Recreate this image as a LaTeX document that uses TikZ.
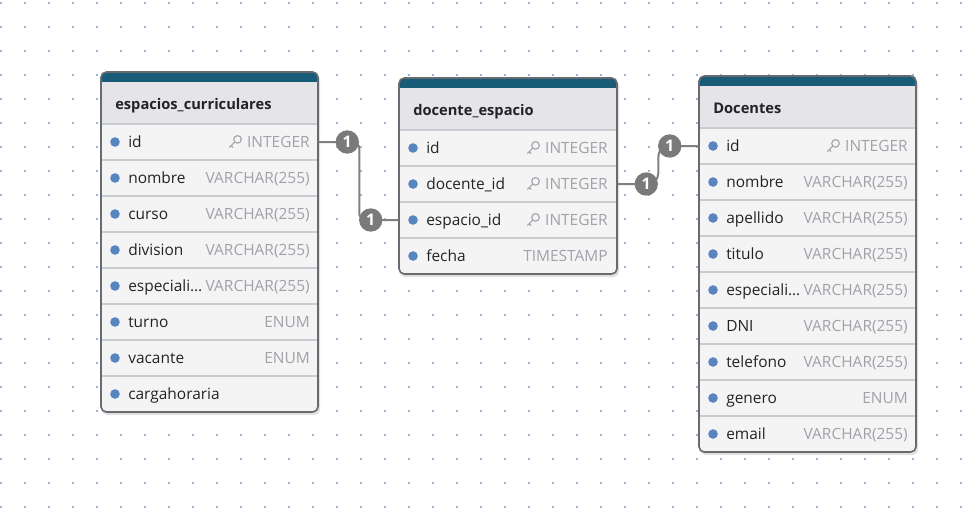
\documentclass[tikz,border=0pt]{standalone}
\usepackage{fontspec}
\setmainfont{Open Sans}
\usetikzlibrary{calc}

\definecolor{headteal}{RGB}{24,92,120}
\definecolor{headbg}{RGB}{229,229,232}
\definecolor{rowbg}{RGB}{244,244,245}
\definecolor{sepcol}{RGB}{202,204,210}
\definecolor{bordercol}{RGB}{105,105,112}
\definecolor{dotblue}{RGB}{86,133,192}
\definecolor{typegrey}{RGB}{160,162,170}
\definecolor{namecol}{RGB}{35,35,38}
\definecolor{linegrey}{RGB}{128,128,128}
\definecolor{badgegrey}{RGB}{122,122,122}
\definecolor{bgdot}{RGB}{150,185,215}

\begin{document}
\begin{tikzpicture}[x=0.75pt, y=-0.75pt,
    tableframe/.style={draw=bordercol, line width=1.2pt, rounded corners=4pt},
    sepline/.style={draw=sepcol, line width=1.1pt},
    rowcell/.style={inner sep=0pt, minimum height=27pt},
    fieldname/.style={anchor=west, inner sep=0pt, text height=10.2pt, text depth=2.6pt,
        text=namecol, font=\fontsize{11.6}{13}\selectfont},
    fieldtype/.style={anchor=east, inner sep=0pt, text height=10.2pt, text depth=2.6pt,
        text=typegrey, font=\fontsize{11.6}{13}\selectfont},
    fielddot/.style={circle, fill=dotblue, inner sep=0pt, minimum size=7.2pt},
    tabletitle/.style={anchor=west, inner sep=0pt, text height=10.2pt, text depth=2.6pt,
        text=namecol, font=\fontsize{11}{13}\selectfont\bfseries},
    relline/.style={draw=linegrey, line width=1.5pt, rounded corners=5pt},
    badge/.style={circle, fill=badgegrey, text=white, inner sep=0pt, minimum size=17.5pt,
        font=\fontsize{12}{13}\selectfont\bfseries},
    keyicon/.pic={
        \draw[typegrey, line width=0.8pt] (2.6,-2.6) circle (3.8)
        (-0.1,0.1) -- (-5.5,5.5) (-3.6,3.6) -- (-1.8,5.4);
    }
]

    %% Background
    \useasboundingbox (0,0) rectangle (962,522);
    \foreach \gx in {0,...,40}
        \foreach \gy in {0,...,21}
            \fill[bgdot] ({24*\gx},{2+24*\gy}) rectangle ++(2,2);

    % espacios_curriculares
    \fill[black!12, rounded corners=4pt] (102,74) rectangle (320,415);
    \begin{scope}
        \clip[rounded corners=4pt] (101,72) rectangle (318,412);
        \fill[rowbg] (101,72) rectangle (318,412);
        \fill[headteal] (101,72) rectangle (318,82);
        \fill[headbg] (101,82) rectangle (318,124);
    \end{scope}
    \node[tabletitle] (ec) at (115,104) {espacios\_curriculares};
    \foreach \fname/\ftype/\fkey [count=\i] in {id/INTEGER/1, nombre/VARCHAR(255)/0,
        curso/VARCHAR(255)/0, division/VARCHAR(255)/0, especiali…/VARCHAR(255)/0,
        turno/ENUM/0, vacante/ENUM/0, cargahoraria//0} {
        \draw[sepline] (101,{88+36*\i}) -- (318,{88+36*\i});
        \node[rowcell, minimum width=162.75pt] (ec-\i) at (209.5,{106+36*\i}) {};
        \node[fielddot] (ec-\i-d) at (115,{106+36*\i}) {};
        \node[fieldname] (ec-\i-n) at (128,{106+36*\i}) {\fname};
        \node[fieldtype] (ec-\i-t) at (310,{106+36*\i}) {\ftype};
        \ifnum\fkey=1 \pic at ($(ec-\i-t.west)+(-12,0)$) {keyicon}; \fi
    }
    \draw[tableframe] (101,72) rectangle (318,412);

    % docente_espacio
    \fill[black!12, rounded corners=4pt] (400,80) rectangle (619,277);
    \begin{scope}
        \clip[rounded corners=4pt] (399,78) rectangle (617,274);
        \fill[rowbg] (399,78) rectangle (617,274);
        \fill[headteal] (399,78) rectangle (617,88);
        \fill[headbg] (399,88) rectangle (617,130);
    \end{scope}
    \node[tabletitle] (de) at (413,110) {docente\_espacio};
    \foreach \fname/\ftype/\fkey [count=\i] in {id/INTEGER/1, docente\_id/INTEGER/1,
        espacio\_id/INTEGER/1, fecha/TIMESTAMP/0} {
        \draw[sepline] (399,{94+36*\i}) -- (617,{94+36*\i});
        \node[rowcell, minimum width=163.5pt] (de-\i) at (508,{112+36*\i}) {};
        \node[fielddot] (de-\i-d) at (413,{112+36*\i}) {};
        \node[fieldname] (de-\i-n) at (426,{112+36*\i}) {\fname};
        \node[fieldtype] (de-\i-t) at (608,{112+36*\i}) {\ftype};
        \ifnum\fkey=1 \pic at ($(de-\i-t.west)+(-12,0)$) {keyicon}; \fi
    }
    \draw[tableframe] (399,78) rectangle (617,274);

    % Docentes
    \fill[black!12, rounded corners=4pt] (700,78) rectangle (918,455);
    \begin{scope}
        \clip[rounded corners=4pt] (699,76) rectangle (916,452);
        \fill[rowbg] (699,76) rectangle (916,452);
        \fill[headteal] (699,76) rectangle (916,86);
        \fill[headbg] (699,86) rectangle (916,128);
    \end{scope}
    \node[tabletitle] (do) at (713,108) {Docentes};
    \foreach \fname/\ftype/\fkey [count=\i] in {id/INTEGER/1, nombre/VARCHAR(255)/0,
        apellido/VARCHAR(255)/0, titulo/VARCHAR(255)/0, especiali…/VARCHAR(255)/0,
        DNI/VARCHAR(255)/0, telefono/VARCHAR(255)/0, genero/ENUM/0, email/VARCHAR(255)/0} {
        \draw[sepline] (699,{92+36*\i}) -- (916,{92+36*\i});
        \node[rowcell, minimum width=162.75pt] (do-\i) at (807.5,{110+36*\i}) {};
        \node[fielddot] (do-\i-d) at (713,{110+36*\i}) {};
        \node[fieldname] (do-\i-n) at (726,{110+36*\i}) {\fname};
        \node[fieldtype] (do-\i-t) at (908,{110+36*\i}) {\ftype};
        \ifnum\fkey=1 \pic at ($(do-\i-t.west)+(-12,0)$) {keyicon}; \fi
    }
    \draw[tableframe] (699,76) rectangle (916,452);

    % Relations
    \draw[relline] (ec-1.east) -- ($(ec-1.east)+(41,0)$) |- (de-3.west);
    \draw[relline, rounded corners=8pt] (de-2.east) -- ($(de-2.east)+(41,0)$) |- (do-1.west);
    \node[badge] (b1) at ($(ec-1.east)+(29,0)$) {1};
    \node[badge] (b2) at ($(de-3.west)+(-28,0)$) {1};
    \node[badge] (b3) at ($(de-2.east)+(29,0)$) {1};
    \node[badge] (b4) at ($(do-1.west)+(-29,0)$) {1};

\end{tikzpicture}
\end{document}
